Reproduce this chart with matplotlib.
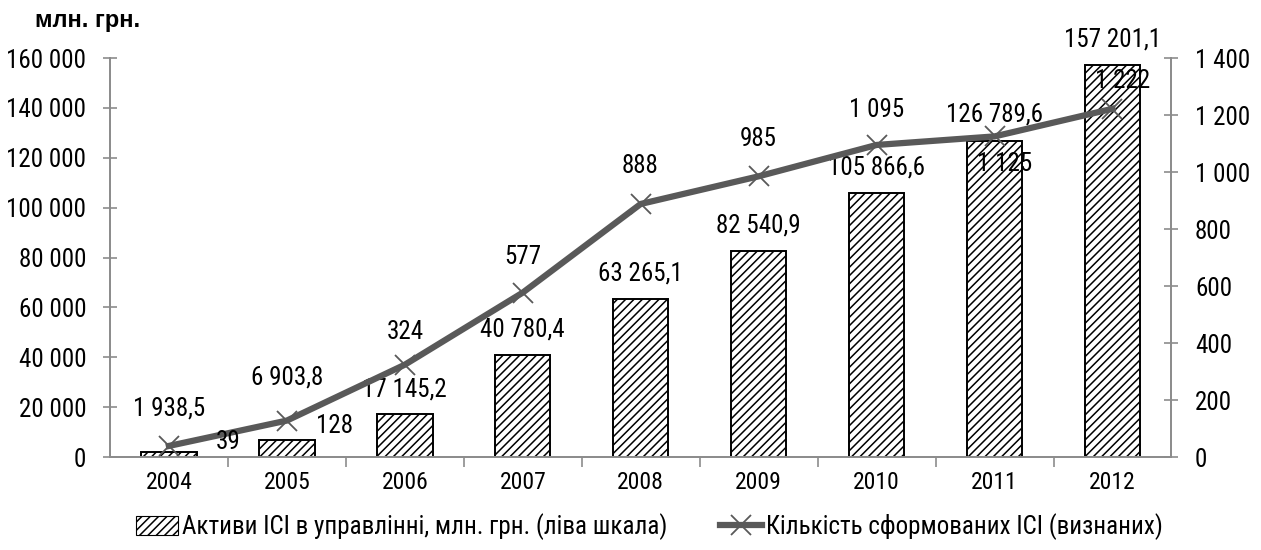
import matplotlib
matplotlib.use("Agg")
import matplotlib.pyplot as plt
from matplotlib.ticker import FuncFormatter, MultipleLocator, FixedLocator
from matplotlib.lines import Line2D
from matplotlib.patches import Patch
from matplotlib import font_manager as fm

# pick a narrow sans if one is installed (reference uses Arial Narrow)
entries = fm.fontManager.ttflist
names = {f.name for f in entries}
FAMILY, STRETCH, FS = "Liberation Sans", "normal", 14.5
for cand in ["Liberation Sans Narrow", "Arial Narrow", "Roboto Condensed",
             "Open Sans Condensed", "Noto Sans Condensed"]:
    if cand in names:
        FAMILY, FS = cand, 18
        break
else:
    cond = [f for f in entries
            if str(f.stretch) in ("condensed", "semi-condensed", "500", "600", "700")
            and f.name in ("Roboto", "Liberation Sans", "DejaVu Sans", "Noto Sans", "Open Sans")]
    if cond:
        FAMILY, STRETCH, FS = cond[0].name, cond[0].stretch, 16.5
plt.rcParams["font.family"] = [FAMILY, "DejaVu Sans"]
plt.rcParams["font.stretch"] = STRETCH
plt.rcParams["hatch.linewidth"] = 1.1

# ---- data ----
years = ["2004", "2005", "2006", "2007", "2008", "2009", "2010", "2011", "2012"]
assets = [1938.5, 6903.8, 17145.2, 40780.4, 63265.1, 82540.9, 105866.6, 126789.6, 157201.1]
funds = [39, 128, 324, 577, 888, 985, 1095, 1125, 1222]
asset_labels = ["1 938,5", "6 903,8", "17 145,2", "40 780,4", "63 265,1",
                "82 540,9", "105 866,6", "126 789,6", "157 201,1"]
fund_labels = ["39", "128", "324", "577", "888", "985", "1 095", "1 125", "1 222"]

# label offsets in pixels (dx, dy) relative to mark
bar_off = [(0, 44), (0, 62), (0, 25), (0, 26), (0, 26), (0, 26), (0, 26), (0, 26), (0, 26)]
line_off = [(59, 4), (48, -5), (0, 33), (0, 36), (-1, 38), (0, 37), (0, 35), (10, -28), (10, 28)]

GRAY = "#8c8c8c"
LINE = "#595959"
HATCH = "////"

fig = plt.figure(figsize=(12.61, 5.5), dpi=100)
ax = fig.add_axes([0.0872, 0.169, 0.8418, 0.7255])
ax2 = ax.twinx()

x = list(range(len(years)))
ax.bar(x, assets, width=0.47, facecolor="white", edgecolor="black",
       linewidth=1.4, hatch=HATCH, zorder=2)
ax2.plot(x, funds, color=LINE, lw=4.5, marker="x", markersize=14,
         markeredgewidth=1.3, markeredgecolor=LINE, zorder=3)

ax.set_xlim(-0.5, len(years) - 0.5)
ax.set_ylim(0, 160000)
ax2.set_ylim(0, 1400)
ax.yaxis.set_major_locator(MultipleLocator(20000))
ax2.yaxis.set_major_locator(MultipleLocator(200))
fmt = FuncFormatter(lambda v, p: f"{int(v):,}".replace(",", " "))
ax.yaxis.set_major_formatter(fmt)
ax2.yaxis.set_major_formatter(fmt)

ax.set_xticks(x)
ax.set_xticklabels(years)
ax.xaxis.set_minor_locator(FixedLocator([i + 0.5 for i in x[:-1]]))
ax.tick_params(axis="x", which="major", length=0, labelsize=FS - 1, pad=10)
ax.tick_params(axis="x", which="minor", length=7, color=GRAY, width=1.2, direction="out")
ax.tick_params(axis="y", length=10, direction="inout", color=GRAY, width=1.2,
               labelsize=FS, pad=12)
ax2.tick_params(axis="y", length=10, direction="inout", color=GRAY, width=1.2,
                labelsize=FS, pad=12)

for a in (ax, ax2):
    a.spines["top"].set_visible(False)
    for s in ("left", "right", "bottom"):
        a.spines[s].set_color(GRAY)
        a.spines[s].set_linewidth(1.3)

for i in x:
    ax.annotate(asset_labels[i], (i, assets[i]), xytext=bar_off[i],
                textcoords="offset pixels", ha="center", va="center", fontsize=FS, zorder=5)
    ax2.annotate(fund_labels[i], (i, funds[i]), xytext=line_off[i],
                 textcoords="offset pixels", ha="center", va="center", fontsize=FS, zorder=5)

fig.text(0.028, 0.962, "млн. грн.", ha="left", va="center", fontsize=FS - 1,
         fontweight="bold", family=["Liberation Sans", "DejaVu Sans"])

handles = [Patch(facecolor="white", edgecolor="black", hatch=HATCH, linewidth=0.8),
           Line2D([], [], color=LINE, lw=4.5, marker="x", markersize=14,
                  markeredgewidth=1.3)]
labels = ["Активи ІСІ в управлінні, млн. грн. (ліва шкала)",
          "Кількість сформованих ІСІ (визнаних)"]
fig.legend(handles, labels, loc="center", bbox_to_anchor=(0.515, 0.042), ncol=2,
           frameon=False, fontsize=FS, handlelength=1.7, handleheight=0.75,
           handletextpad=0.15, columnspacing=2.1)

fig.savefig("out.png", dpi=100, facecolor="white")
